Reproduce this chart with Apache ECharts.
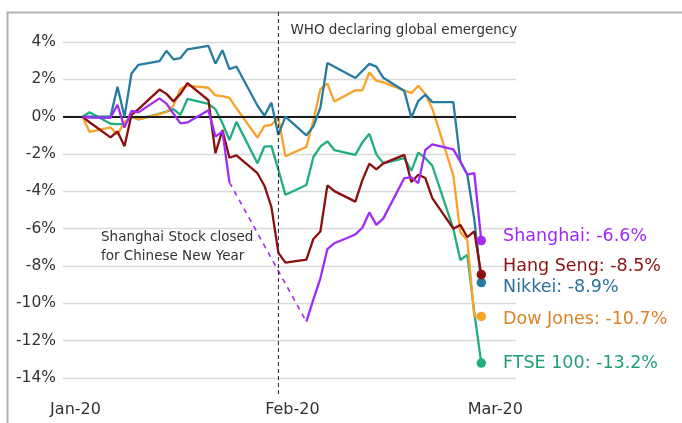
<!DOCTYPE html>
<html><head><meta charset="utf-8">
<script src="https://cdn.jsdelivr.net/npm/echarts@6/dist/echarts.min.js"></script>
<style>html,body{margin:0;padding:0;background:#fff}#c{width:682px;height:423px}</style>
</head><body><div id="c"></div>
<script>
// trading days, counted from 1 Jan 2020 = 0
const days = [1,2,5,6,7,8,9,12,13,14,15,16,19,20,21,22,23,26,27,28,29,30,33,34,35,36,37,40,41,42,43,44,47,48,49,50,51,54,55,56,57,58];
const shanghai = [0,-0.05,-0.06,0.64,-0.59,0.31,0.23,0.98,0.70,0.16,-0.36,-0.31,0.34,-1.07,-0.79,-3.52,null,null,null,null,null,null,-10.98,-9.79,-8.66,-7.09,-6.78,-6.31,-5.95,-5.13,-5.80,-5.45,-3.29,-3.25,-3.56,-1.78,-1.48,-1.75,-2.40,-3.10,-3.03,-6.64];
const hangSeng = [0,-0.30,-1.11,-0.79,-1.59,0.10,0.40,1.45,1.22,0.82,1.22,1.80,0.88,-1.96,-0.72,-2.20,-2.07,-3.03,-3.70,-4.84,-7.30,-7.82,-7.66,-6.55,-6.15,-3.68,-3.99,-4.55,-3.40,-2.52,-2.82,-2.50,-2.05,-3.50,-3.11,-3.29,-4.36,-6.00,-5.80,-6.45,-6.15,-8.46];
const nikkei = [0,0,0,1.60,0.00,2.31,2.78,2.98,3.53,3.07,3.14,3.61,3.79,2.84,3.56,2.55,2.69,0.60,0.05,0.75,-0.98,0.00,-1.00,-0.52,0.49,2.88,2.68,2.07,null,2.83,2.68,2.08,1.37,-0.05,0.85,1.18,0.78,0.78,-2.40,-3.10,-5.50,-8.89];
const dowJones = [0,-0.81,-0.57,-0.95,-0.30,0.00,-0.15,0.14,0.25,0.60,1.49,1.66,1.55,1.14,1.10,1.01,0.45,-1.12,-0.50,-0.44,-0.05,-2.12,-1.62,-0.21,1.47,1.77,0.81,1.42,1.41,2.37,1.93,1.84,null,1.26,1.66,1.22,0.43,-3.14,-6.19,-6.62,-10.70,-10.70];
const ftse = [0,0.24,-0.38,-0.40,-0.39,0.00,-0.15,0.17,0.27,0.40,0.10,0.95,0.68,0.40,-0.35,-1.25,-0.28,-2.50,-1.60,-1.58,-2.85,-4.18,-3.66,-2.16,-1.60,-1.32,-1.79,-2.05,-1.38,-0.92,-2.02,-2.50,-2.22,-2.90,-1.93,-2.22,-2.63,-6.00,-7.68,-7.40,-10.50,-13.20];
const seriesNames = ['FTSE 100','Dow Jones','Nikkei','Hang Seng','Shanghai'];
const seriesValues = [ftse, dowJones, nikkei, hangSeng, shanghai];
const xTickValues = [0, 31, 60];
const xTickLabels = ['Jan-20', 'Feb-20', 'Mar-20'];
const whoDay = 29;

const lineColors = {'FTSE 100':'#22ad80','Dow Jones':'#f9a12a','Nikkei':'#277ba1','Hang Seng':'#8b0f0f','Shanghai':'#a02cf5'};
const textColors = {'FTSE 100':'#1f9e72','Dow Jones':'#d98326','Nikkei':'#2a7296','Hang Seng':'#8b1212','Shanghai':'#9f28f2'};
const labelDy = {'FTSE 100':0,'Dow Jones':3,'Nikkei':5,'Hang Seng':-8,'Shanghai':-4};
const FONT = 'DejaVu Sans';

const chart = echarts.init(document.getElementById('c'), null, {renderer:'canvas'});
const series = [];
// zero line holder
series.push({type:'line', data:[], silent:true, z:1,
  markLine:{silent:true, symbol:'none', label:{show:false},
    lineStyle:{color:'#1a1a1a', width:1.8, type:'solid'}, data:[{yAxis:0}]}});

seriesNames.forEach((name, k) => {
  const vals = seriesValues[k];
  const pts = days.map((d, i) => [d, vals[i]]);
  series.push({type:'line', name, data:pts, showSymbol:false, connectNulls: name !== 'Shanghai',
    lineStyle:{color:lineColors[name], width:2.3}, itemStyle:{color:lineColors[name]}, z:3+k, silent:true, animation:false});
  if (name === 'Shanghai') {
    // dashed bridge over the Chinese New Year closure
    let a = -1, b = -1;
    for (let i = 0; i < vals.length; i++) {
      if (vals[i] === null && a < 0) a = i - 1;
      if (a >= 0 && b < 0 && vals[i] !== null && i > a + 1) b = i;
    }
    series.push({type:'line', data:[[days[a], vals[a]], [days[b], vals[b]]], showSymbol:false,
      lineStyle:{color:lineColors[name], width:1.6, type:[5,5]}, z:3, silent:true, animation:false});
  }
});
const dotOrder = ['FTSE 100','Dow Jones','Nikkei','Shanghai','Hang Seng'];
dotOrder.forEach(name => {
  const vals = seriesValues[seriesNames.indexOf(name)];
  const last = vals.length - 1;
  series.push({type:'scatter', data:[[days[last], vals[last]]], symbolSize:9.5, z:10, silent:true, animation:false,
    itemStyle:{color:lineColors[name], opacity:1},
    label:{show:true, position:'right', distance:17, offset:[0, labelDy[name]],
      formatter: name + ': ' + vals[last].toFixed(1) + '%',
      fontFamily:FONT, fontSize:17.5, color:textColors[name]}});
});

chart.setOption({
  backgroundColor:'#fff',
  animation:false,
  grid:{left:63, right:166, top:42, bottom:45, containLabel:false, outerBoundsMode:'none'},
  xAxis:{type:'value', min:-1.79, max:62.96,
    axisLine:{show:false}, axisTick:{show:false}, splitLine:{show:false},
    axisLabel:{customValues:xTickValues, formatter:v => xTickLabels[xTickValues.indexOf(v)] || '',
      fontFamily:FONT, fontSize:16, color:'#333', margin:24}},
  yAxis:{type:'value', min:-14, max:4, interval:2,
    axisLine:{show:false}, axisTick:{show:false},
    splitLine:{lineStyle:{color:'#d9d9d9', width:1.3}},
    axisLabel:{formatter:'{value}%', fontFamily:FONT, fontSize:15.5, color:'#333', margin:7}},
  series
});

const wx = chart.convertToPixel({xAxisIndex:0}, whoDay);
chart.setOption({graphic:[
  {type:'rect', left:5, top:10, shape:{width:700, height:440}, style:{fill:null, stroke:'#b3b3b3', lineWidth:2}, silent:true, z:0},
  {type:'line', shape:{x1:wx, y1:12, x2:wx, y2:397}, style:{stroke:'#222', lineWidth:1, lineDash:[4,3]}, silent:true, z:20},
  {type:'text', x:wx + 12, y:30, style:{text:'WHO declaring global emergency', font:'13.5px "DejaVu Sans"', fill:'#333', textVerticalAlign:'middle'}, silent:true, z:20},
  {type:'text', x:101, y:237, style:{text:'Shanghai Stock closed', font:'13.5px "DejaVu Sans"', fill:'#333', textVerticalAlign:'middle'}, silent:true, z:20},
  {type:'text', x:101, y:256, style:{text:'for Chinese New Year', font:'13.5px "DejaVu Sans"', fill:'#333', textVerticalAlign:'middle'}, silent:true, z:20}
]});
</script></body></html>
